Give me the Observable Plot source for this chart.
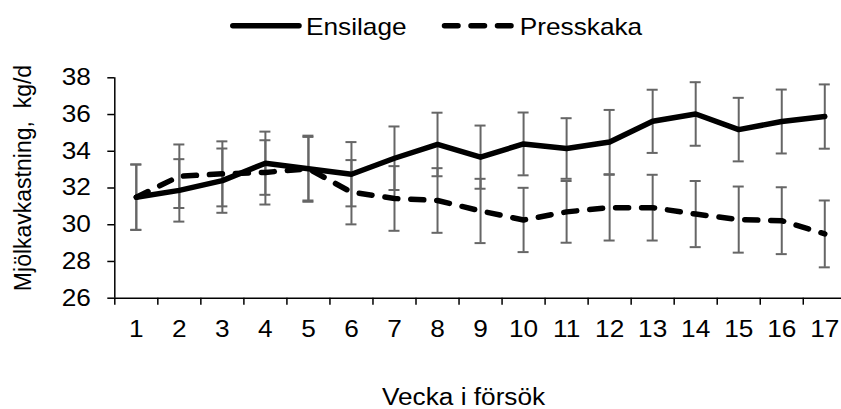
<!DOCTYPE html>
<html><head><meta charset="utf-8">
<script src="https://cdn.jsdelivr.net/npm/d3@7"></script>
<script src="https://cdn.jsdelivr.net/npm/@observablehq/plot@0.6"></script>
<style>
body{margin:0;background:#fff;overflow:hidden;font-family:"Liberation Sans",Arial,sans-serif;}
#chart svg{display:block}
</style></head><body>
<div id="chart"></div>
<script>
// ---- data ----
const weeks = [1, 2, 3, 4, 5, 6, 7, 8, 9, 10, 11, 12, 13, 14, 15, 16, 17];
const seriesNames = ["Ensilage", "Presskaka"];
const ensilage   = [31.5, 31.87, 32.4, 33.35, 33.05, 32.75, 33.62, 34.37, 33.68, 34.4, 34.15, 34.5, 35.63, 36.03, 35.18, 35.62, 35.89];
const ensilageSD = [1.78, 1.7, 1.75, 1.72, 1.8, 1.75, 1.73, 1.73, 1.72, 1.71, 1.65, 1.75, 1.72, 1.73, 1.73, 1.74, 1.75];
const presskaka   = [31.5, 32.64, 32.77, 32.85, 33.05, 31.77, 31.43, 31.32, 30.75, 30.26, 30.7, 30.93, 30.93, 30.58, 30.28, 30.22, 29.5];
const presskakaSD = [1.78, 1.73, 1.77, 1.75, 1.73, 1.75, 1.76, 1.76, 1.75, 1.75, 1.68, 1.79, 1.79, 1.8, 1.8, 1.82, 1.82];
const yTicks = [26, 28, 30, 32, 34, 36, 38];
const xTitle = "Vecka i försök";
const yTitle = "Mjölkavkastning,\u00a0 kg/d";

// ---- styling ----
const FONT = 23, STRETCH = 1.14;
const capHalf = 0.128; // half width of error-bar caps, in weeks
const barColor = "#666";

const rows = [];
weeks.forEach((w, i) => {
  rows.push({week: w, series: seriesNames[0], value: ensilage[i], sd: ensilageSD[i]});
  rows.push({week: w, series: seriesNames[1], value: presskaka[i], sd: presskakaSD[i]});
});
const xEdges = [weeks[0] - 0.5, ...weeks.map(w => w + 0.5)];

// ---- legend ----
const legend = d3.create("svg").attr("width", 841).attr("height", 52)
  .attr("font-family", "Liberation Sans, Arial, sans-serif").attr("font-size", FONT);
const legendItems = [
  {name: seriesNames[0], x1: 232.8, x2: 299, dash: null, tx: 306},
  {name: seriesNames[1], x1: 444.5, x2: 511.5, dash: "13.5,13", tx: 519.8}
];
for (const it of legendItems) {
  legend.append("line").attr("x1", it.x1).attr("x2", it.x2).attr("y1", 25.7).attr("y2", 25.7)
    .attr("stroke", "#000").attr("stroke-width", 5.5).attr("stroke-linecap", "round")
    .attr("stroke-dasharray", it.dash);
  legend.append("text").attr("transform", `translate(${it.tx},35) scale(${STRETCH},1)`).text(it.name);
}
document.getElementById("chart").append(legend.node());

// ---- plot ----
const plot = Plot.plot({
  width: 841, height: 357,
  marginLeft: 114.3, marginRight: -4.8, marginTop: 25.3, marginBottom: 111.3,
  style: {fontFamily: "Liberation Sans, Arial, sans-serif", fontSize: FONT + "px", color: "#000", background: "#fff", overflow: "visible"},
  x: {type: "linear", domain: [0.5, 17.5]},
  y: {domain: [26, 38]},
  marks: [
    Plot.ruleX(rows, {x: "week", y1: d => d.value - d.sd, y2: d => d.value + d.sd, stroke: barColor, strokeWidth: 2}),
    Plot.ruleY(rows, {y: d => d.value - d.sd, x1: d => d.week - capHalf, x2: d => d.week + capHalf, stroke: barColor, strokeWidth: 2}),
    Plot.ruleY(rows, {y: d => d.value + d.sd, x1: d => d.week - capHalf, x2: d => d.week + capHalf, stroke: barColor, strokeWidth: 2}),
    Plot.line(rows.filter(d => d.series === seriesNames[0]), {x: "week", y: "value", stroke: "#000", strokeWidth: 5.5, strokeLinejoin: "round", strokeLinecap: "round"}),
    Plot.line(rows.filter(d => d.series === seriesNames[1]), {x: "week", y: "value", stroke: "#000", strokeWidth: 5.5, strokeLinejoin: "round", strokeLinecap: "round", strokeDasharray: "13,13"}),
    Plot.ruleX([xEdges[0]], {strokeWidth: 1.5}),
    Plot.ruleY([yTicks[0]], {strokeWidth: 1.5}),
    Plot.axisY({ticks: yTicks, tickSize: 7, tickPadding: 17, label: null, strokeWidth: 1.5}),
    Plot.axisX({ticks: xEdges, tickSize: 7, tickFormat: () => "", label: null, strokeWidth: 1.5}),
    Plot.axisX({ticks: weeks, tickSize: 0, tickPadding: 22, label: null}),
    Plot.text([xTitle], {text: d => d, frameAnchor: "bottom", textAnchor: "middle", lineAnchor: "middle", dx: -17, dy: 99}),
    Plot.text([yTitle], {text: d => d, frameAnchor: "left", textAnchor: "middle", lineAnchor: "middle", rotate: -90, dx: -91, dy: -10})
  ]
});
document.getElementById("chart").append(plot);

// horizontal stretch of the reference's lettering
d3.select(plot).selectAll("text").each(function() {
  if (this.textContent === yTitle || this.textContent === "") return;
  const len = this.getComputedTextLength();
  if (len > 0) {
    this.setAttribute("textLength", len * STRETCH);
    this.setAttribute("lengthAdjust", "spacingAndGlyphs");
  }
});
</script>
</body></html>
